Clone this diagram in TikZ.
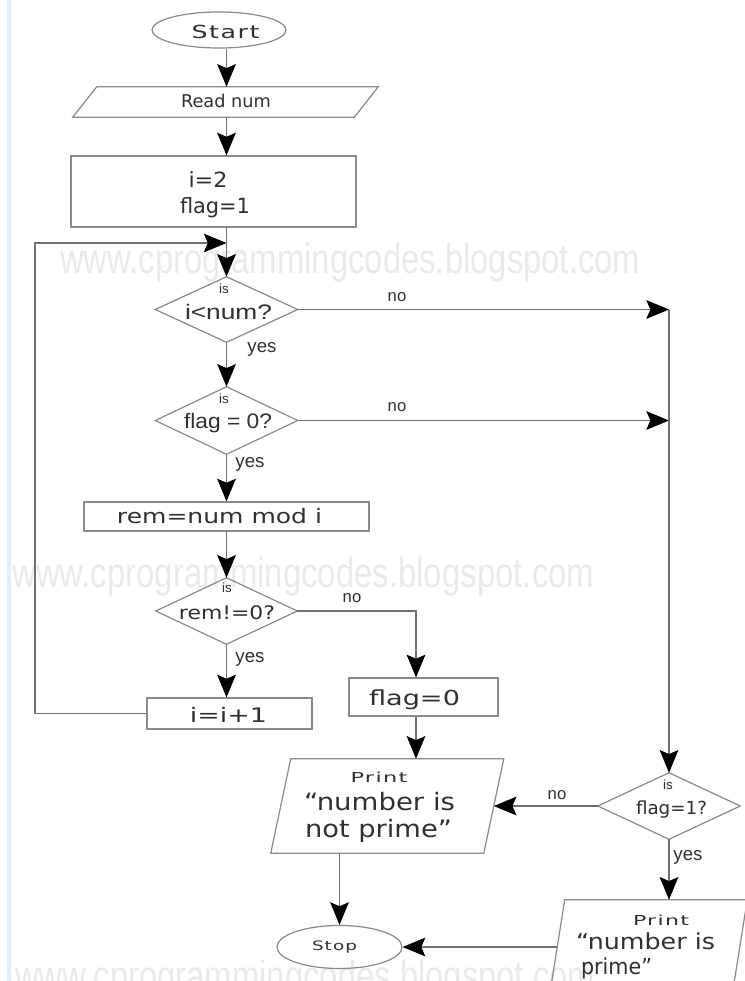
\documentclass[tikz,border=0pt]{standalone}
\usepackage{fontspec}
\usepackage{graphicx}
\usetikzlibrary{shapes.geometric,arrows.meta}
\newfontfamily\dv{DejaVu Sans}
\newfontfamily\dvs[LetterSpace=6]{DejaVu Sans}
\newfontfamily\lb{Liberation Sans}
\newcommand\fitw[2]{\resizebox{#1}{\height}{#2}}
\definecolor{lin}{HTML}{707070}
\definecolor{shp}{HTML}{8A8A8A}
\definecolor{txt}{HTML}{303030}
\definecolor{wm}{HTML}{EAEAEA}
\definecolor{strip}{HTML}{E6EDF8}
\tikzset{
 box/.style={draw=shp, line width=0.9pt, rectangle, inner sep=0pt},
 ghost/.style={rectangle, inner sep=0pt},
 oval/.style={draw=shp, line width=0.9pt, ellipse, inner sep=0pt},
 outline/.style={draw=shp, line width=0.9pt},
 lbl/.style={inner sep=0pt, text=txt},
 arr/.style={draw=lin, line width=0.9pt, -{Stealth[length=17pt,width=14pt,inset=3pt,color=black]}},
 wmk/.style={inner sep=0pt, text=wm, anchor=base west, font=\lb\fontsize{31.5pt}{36pt}\selectfont},
 isl/.style={lbl, font=\lb\fontsize{10pt}{12pt}\selectfont},
 nol/.style={lbl, font=\lb\fontsize{12.5pt}{14pt}\selectfont},
 yesl/.style={lbl, font=\lb\fontsize{14pt}{16pt}\selectfont},
}
\begin{document}
\begin{tikzpicture}[x=0.75pt,y=-0.75pt]
\useasboundingbox (0,0) rectangle (745,981);
\clip (0,0) rectangle (745,981);
\fill[white] (0,0) rectangle (745,981);
\fill[strip] (7,0) rectangle (11,981);
% watermarks
\node[wmk] (w1) at (60,273) {\fitw{435pt}{www.cprogrammingcodes.blogspot.com}};
\node[wmk] (w2) at (12,587) {\fitw{436.5pt}{www.cprogrammingcodes.blogspot.com}};
\node[wmk] (w3) at (15,990) {\fitw{435pt}{www.cprogrammingcodes.blogspot.com}};
% helper coordinates
\coordinate (c1) at (226.5,0);
\coordinate (c2) at (416,0);
\coordinate (rc) at (669,309.5);
\coordinate (lp) at (35,243);
\coordinate (j1) at (226.5,243);
% start
\node[oval, minimum width=100.5pt, minimum height=27pt] (start) at (219,30) {};
\node[lbl] (tst) at (225.5,32) {\fitw{51pt}{\dvs\fontsize{13.5pt}{16pt}\selectfont Start}};
% read
\node[ghost, minimum width=210.75pt, minimum height=22.5pt] (rd) at (225.5,102) {};
\draw[outline] ([xshift=9pt]rd.north west) -- ([xshift=9pt]rd.north east) -- ([xshift=-9pt]rd.south east) -- ([xshift=-9pt]rd.south west) -- cycle;
\node[lbl] (trd) at (226,101) {\fitw{67.5pt}{\dv\fontsize{13.2pt}{16pt}\selectfont Read num}};
% init
\node[box, minimum width=213.75pt, minimum height=53.25pt] (init) at (213.5,191.5) {};
\node[lbl] (ti1) at (208,179.5) {\fitw{29.25pt}{\dv\fontsize{15.75pt}{18pt}\selectfont i=2}};
\node[lbl] (ti2) at (215,207.5) {\fitw{52.5pt}{\dv\fontsize{15.75pt}{18pt}\selectfont flag=1}};
% d1
\node[ghost, minimum width=106.5pt, minimum height=48.75pt] (d1) at (226.5,309.5) {};
\draw[outline] (d1.west) -- (d1.north) -- (d1.east) -- (d1.south) -- cycle;
\node[isl] (is1) at (224,289) {is};
\node[lbl] (td1) at (228.5,311.5) {\fitw{65.25pt}{\lb\fontsize{15.75pt}{18pt}\selectfont i<num?}};
% d2
\node[ghost, minimum width=106.5pt, minimum height=50.25pt] (d2) at (226.5,420.5) {};
\draw[outline] (d2.west) -- (d2.north) -- (d2.east) -- (d2.south) -- cycle;
\node[isl] (is2) at (224,399) {is};
\node[lbl] (td2) at (228,423) {\fitw{66pt}{\lb\fontsize{15.75pt}{18pt}\selectfont flag = 0?}};
% rem
\node[box, minimum width=213.75pt, minimum height=21.75pt] (rem) at (226.5,516.5) {};
\node[lbl] (trem) at (219.5,516) {\fitw{153.75pt}{\dv\fontsize{15pt}{18pt}\selectfont rem=num mod i}};
% d3
\node[ghost, minimum width=105.75pt, minimum height=49.5pt] (d3) at (226.5,611) {};
\draw[outline] (d3.west) -- (d3.north) -- (d3.east) -- (d3.south) -- cycle;
\node[isl] (is3) at (227,588) {is};
\node[lbl] (td3) at (227,612.5) {\fitw{72pt}{\dv\fontsize{14pt}{16pt}\selectfont rem!=0?}};
% inc
\node[box, minimum width=123.75pt, minimum height=23.25pt] (inc) at (229.5,713.5) {};
\node[lbl] (tinc) at (228.5,715) {\fitw{57.75pt}{\dv\fontsize{15pt}{18pt}\selectfont i=i+1}};
% flag=0
\node[box, minimum width=111.75pt, minimum height=28.5pt] (f0) at (423.5,697) {};
\node[lbl] (tf0) at (414.5,699.5) {\fitw{68.25pt}{\dv\fontsize{15.5pt}{18pt}\selectfont flag=0}};
% p1
\node[ghost, minimum width=159.375pt, minimum height=70.5pt] (p1) at (387.25,806) {};
\draw[outline] ([xshift=7.5pt]p1.north west) -- ([xshift=7.5pt]p1.north east) -- ([xshift=-7.5pt]p1.south east) -- ([xshift=-7.5pt]p1.south west) -- cycle;
\node[lbl] (tp1a) at (379,777) {\fitw{42.75pt}{\dvs\fontsize{10.3pt}{12pt}\selectfont Print}};
\node[lbl] (tp1b) at (379.5,801.5) {\fitw{113.25pt}{\dv\fontsize{18pt}{20pt}\selectfont “number is}};
\node[lbl] (tp1c) at (378.5,831) {\fitw{110.25pt}{\dv\fontsize{18pt}{20pt}\selectfont not prime”}};
% d4
\node[ghost, minimum width=106.5pt, minimum height=49.5pt] (d4) at (669,806) {};
\draw[outline] (d4.west) -- (d4.north) -- (d4.east) -- (d4.south) -- cycle;
\node[isl] (is4) at (668,785) {is};
\node[lbl] (td4) at (671.5,810) {\fitw{53.25pt}{\dv\fontsize{13.5pt}{16pt}\selectfont flag=1?}};
% p2
\node[ghost, minimum width=136.5pt, minimum height=70.5pt] (p2) at (648.5,947) {};
\draw[outline] ([xshift=5.625pt]p2.north west) -- ([xshift=5.625pt]p2.north east) -- ([xshift=-5.625pt]p2.south east) -- ([xshift=-5.625pt]p2.south west) -- cycle;
\node[lbl] (tp2a) at (661,920) {\fitw{42pt}{\dvs\fontsize{10.3pt}{12pt}\selectfont Print}};
\node[lbl] (tp2b) at (645.5,941.5) {\fitw{104.25pt}{\dv\fontsize{16.5pt}{18pt}\selectfont “number is}};
\node[lbl] (tp2c) at (616.5,968) {\fitw{53.25pt}{\dv\fontsize{16.5pt}{18pt}\selectfont prime”}};
% stop
\node[oval, minimum width=93.75pt, minimum height=32.25pt] (stop) at (339.5,947) {};
\node[lbl] (tstop) at (334.5,947.5) {\fitw{33.75pt}{\dvs\fontsize{9.75pt}{12pt}\selectfont Stop}};
% labels
\node[nol] (no1) at (397,297) {no};
\node[nol] (no2) at (397,407) {no};
\node[nol] (no3) at (352,598.5) {no};
\node[nol] (no4) at (557,795.5) {no};
\node[yesl] (yes1) at (262,349) {yes};
\node[yesl] (yes2) at (250,464) {yes};
\node[yesl] (yes3) at (250,659) {yes};
\node[yesl] (yes4) at (688,857) {yes};
% connectors
\draw[arr] (start.south -| c1) -- (rd.north -| c1);
\draw[arr] (rd.south -| c1) -- (init.north -| c1);
\draw[arr] (init.south -| c1) -- (d1.north);
\draw[arr] (inc.west) -| (lp) -- (j1);
\draw[arr] (d1.south) -- (d2.north);
\draw[arr] (d1.east) -- (rc);
\draw[arr] (d2.east) -- (d2.east -| rc);
\draw[arr] (rc) -- (d4.north);
\draw[arr] (d2.south) -- (rem.north);
\draw[arr] (rem.south) -- (d3.north);
\draw[arr] (d3.south) -- (d3.south |- inc.north);
\draw[arr] (d3.east) -| (c2 |- f0.north);
\draw[arr] (f0.south -| c2) -- (p1.north -| c2);
\draw[arr] (d4.west) -- (p1.east);
\draw[arr] (d4.south) -- (d4.south |- p2.north);
\draw[arr] (p1.south -| stop.north) -- (stop.north);
\draw[arr] (p2.west) -- (stop.east);
\end{tikzpicture}
\end{document}
